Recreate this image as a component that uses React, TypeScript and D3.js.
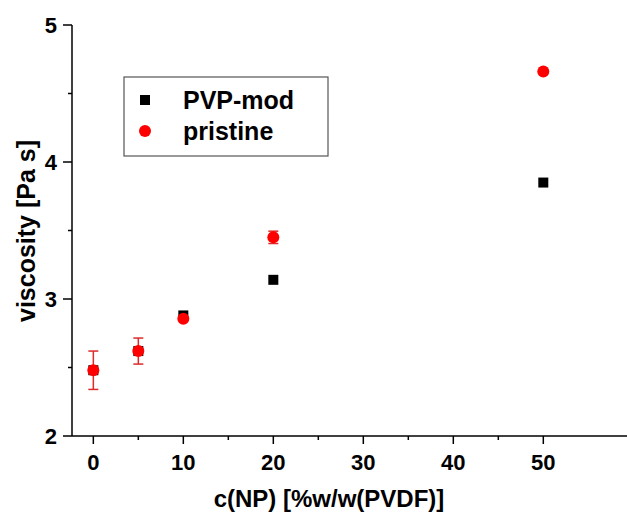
import React from 'react';
import * as d3 from 'd3';

// concentrations of NP in %w/w(PVDF)
const concentrations = [0, 5, 10, 20, 50];
// viscosity [Pa s]
const pvpMod = [2.48, 2.62, 2.88, 3.14, 3.85];
const pristine = [2.48, 2.62, 2.855, 3.45, 4.66];
const pristineErr = [0.14, 0.095, 0.01, 0.045, 0.01];

const xMajorTicks = [0, 10, 20, 30, 40, 50];
const xMinorTicks = [5, 15, 25, 35, 45];
const yMajorTicks = [2, 3, 4, 5];
const yMinorTicks = [2.5, 3.5, 4.5];

const font = 'Arial, "Liberation Sans", sans-serif';
const red = '#ff0000';
const errColor = '#dd2a2a';

const App = () => {
  const width = 627;
  const height = 518;

  const x = d3.scaleLinear().domain([-2.37, 59.3]).range([72, 627]);
  const y = d3.scaleLinear().domain([2, 5]).range([436, 25]);
  const y0 = y(2);
  const x0 = x.range()[0];

  const sq = 10;
  const r = 6;

  return (
    <svg
      width={width}
      height={height}
      style={{ position: 'absolute', left: 0, top: 0, background: '#fff' }}
      fontFamily={font}
    >
      {/* axes */}
      <line x1={x0} x2={x0} y1={y(5)} y2={y0} stroke="#000" strokeWidth={1.5} />
      <line x1={x0} x2={627} y1={y0} y2={y0} stroke="#000" strokeWidth={1.5} />

      {xMajorTicks.map((t) => (
        <g key={`xt-${t}`}>
          <line x1={x(t)} x2={x(t)} y1={y0} y2={y0 + 8} stroke="#000" strokeWidth={1.5} />
          <text x={x(t)} y={470} textAnchor="middle" fontSize={22} fontWeight="bold">{t}</text>
        </g>
      ))}
      {xMinorTicks.map((t) => (
        <line key={`xm-${t}`} x1={x(t)} x2={x(t)} y1={y0} y2={y0 + 4} stroke="#000" strokeWidth={1.5} />
      ))}

      {yMajorTicks.map((t) => (
        <g key={`yt-${t}`}>
          <line x1={x0 - 9} x2={x0} y1={y(t)} y2={y(t)} stroke="#000" strokeWidth={1.5} />
          <text x={57} y={y(t)} dy="0.36em" textAnchor="end" fontSize={22} fontWeight="bold">{t}</text>
        </g>
      ))}
      {yMinorTicks.map((t) => (
        <line key={`ym-${t}`} x1={x0 - 4} x2={x0} y1={y(t)} y2={y(t)} stroke="#000" strokeWidth={1.5} />
      ))}

      <text x={329} y={507} textAnchor="middle" fontSize={24} fontWeight="bold">c(NP) [%w/w(PVDF)]</text>
      <text
        transform={`translate(35, 231) rotate(-90)`}
        textAnchor="middle"
        fontSize={25}
        fontWeight="bold"
      >
        viscosity [Pa s]
      </text>

      {/* PVP-mod squares */}
      {concentrations.map((c, i) => (
        <rect
          key={`sq-${c}`}
          x={x(c) - sq / 2}
          y={y(pvpMod[i]) - sq / 2}
          width={sq}
          height={sq}
          fill="#000"
        />
      ))}

      {/* pristine error bars and circles */}
      {concentrations.map((c, i) => {
        const top = y(pristine[i] + pristineErr[i]);
        const bot = y(pristine[i] - pristineErr[i]);
        return (
          <g key={`err-${c}`} stroke={errColor} strokeWidth={1.5}>
            <line x1={x(c)} x2={x(c)} y1={top} y2={bot} />
            <line x1={x(c) - 5} x2={x(c) + 5} y1={top} y2={top} />
            <line x1={x(c) - 5} x2={x(c) + 5} y1={bot} y2={bot} />
          </g>
        );
      })}
      {concentrations.map((c, i) => (
        <circle key={`ci-${c}`} cx={x(c)} cy={y(pristine[i])} r={r} fill={red} />
      ))}

      {/* legend */}
      <rect x={124} y={77} width={204} height={79} fill="#fff" stroke="#555" strokeWidth={1.2} />
      <rect x={140} y={95} width={sq} height={sq} fill="#000" />
      <text x={183} y={109} fontSize={25} fontWeight="bold">PVP-mod</text>
      <circle cx={145} cy={131} r={r} fill={red} />
      <text x={183} y={140} fontSize={25} fontWeight="bold">pristine</text>
    </svg>
  );
};

export default App;
